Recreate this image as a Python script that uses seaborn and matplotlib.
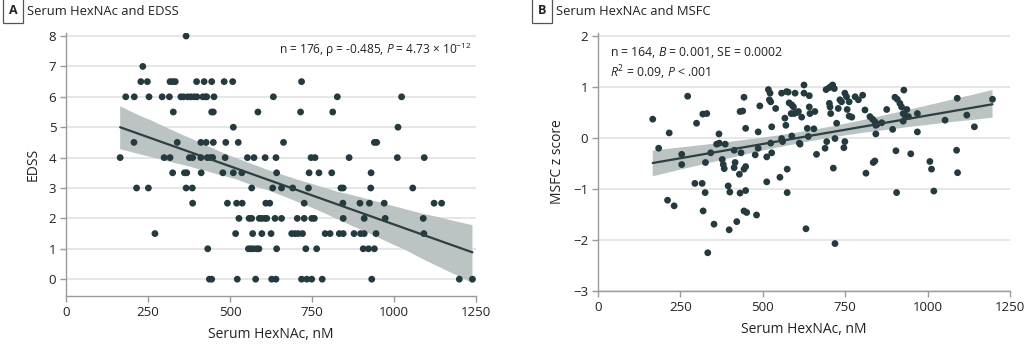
import numpy as np
import pandas as pd
import matplotlib
matplotlib.use("Agg")
import matplotlib.pyplot as plt
from matplotlib.collections import PolyCollection
import seaborn as sns

# ---------------- data: panel A (EDSS) ----------------
a_levels = [8, 7, 6.5, 6, 5.5, 5, 4.5, 4, 3.5, 3, 2.5, 2, 1.5, 1, 0]
a_x_by_level = [
    [366],
    [234],
    [228, 248, 317, 325, 333, 398, 421, 444, 482, 508, 718],
    [182, 208, 253, 293, 315, 350, 358, 371, 381, 391, 399, 417, 425, 429, 451, 632, 827, 1023],
    [327, 444, 449, 585, 715, 813],
    [510, 1012],
    [207, 339, 411, 427, 449, 487, 525, 663, 940, 947],
    [165, 299, 317, 376, 386, 411, 431, 441, 447, 485, 553, 573, 607, 640, 747, 759, 863, 1010, 1092],
    [325, 361, 368, 412, 478, 510, 536, 642, 741, 771, 810, 930],
    [215, 251, 366, 385, 566, 630, 657, 691, 739, 838, 845, 929, 1057],
    [386, 492, 520, 537, 609, 621, 726, 844, 896, 925, 970, 1122, 1145],
    [527, 558, 566, 589, 597, 607, 612, 637, 657, 705, 726, 749, 757, 845, 909, 973, 1089],
    [271, 517, 569, 597, 625, 688, 698, 708, 721, 790, 805, 833, 845, 878, 898, 909, 945, 1091],
    [432, 556, 563, 571, 581, 588, 642, 731, 764, 906, 922, 940],
    [437, 444, 522, 578, 627, 640, 718, 734, 749, 781, 932, 1199, 1239],
]
a_hexnac = [x for xs in a_x_by_level for x in xs]
a_edss = [lv for lv, xs in zip(a_levels, a_x_by_level) for _ in xs]

# ---------------- data: panel B (MSFC z score) ----------------
b_hexnac = [166, 272, 216, 184, 254, 254, 299, 318, 330, 367, 360, 368, 386, 342, 326,
            377, 380, 383, 294, 316, 325, 211, 395, 400, 413, 416, 429, 443, 448, 413,
            431, 439, 443, 448, 434, 431, 448, 477, 486, 486, 491, 512, 512, 517, 522,
            520, 524, 527, 524, 527, 539, 557, 572, 577, 567, 570, 557, 560, 552, 574,
            574, 580, 588, 593, 598, 586, 595, 603, 588, 611, 613, 608, 618, 625, 625,
            635, 638, 641, 641, 643, 655, 658, 663, 689, 694, 692, 702, 712, 717, 709,
            702, 704, 706, 714, 719, 724, 729, 734, 739, 749, 754, 762, 756, 762, 770,
            749, 746, 780, 790, 803, 810, 813, 825, 833, 840, 843, 847, 843, 835, 840,
            861, 876, 894, 904, 901, 908, 916, 921, 928, 926, 931, 937, 942, 926, 949,
            969, 969, 1007, 1012, 1019, 1053, 1088, 1091, 1090, 1119, 1142, 1197,
            231, 319, 352, 333, 421, 398, 443, 451, 481, 631, 719, 906]
b_msfc = [0.37, 0.82, 0.10, -0.20, -0.32, -0.52, 0.29, 0.47, 0.48, 0.08, -0.12, -0.10, -0.12, -0.29, -0.48,
          -0.42, -0.52, -0.60, -0.89, -0.89, -1.07, -1.22, -0.94, -1.06, -0.58, -0.48, -0.71, -0.61, -0.56, -0.24,
          0.52, 0.53, 0.80, 0.19, -0.29, -1.08, -1.03, -0.33, 0.12, -0.20, 0.63, -0.37, -0.86, 0.95, 0.88,
          0.75, 0.71, 0.22, -0.10, -0.29, 0.58, 0.88, 0.91, 0.90, 0.39, 0.25, -0.01, -0.07, -0.77, -0.61,
          -1.07, 0.69, 0.65, 0.61, 0.88, 0.48, 0.48, 0.50, 0.04, -0.10, -0.12, 0.52, 0.41, 1.04, 0.88,
          0.19, 0.03, 0.83, 0.61, 0.48, 0.18, 0.52, -0.32, -0.20, -0.07, 0.95, 0.99, 1.04, 0.97, 1.02,
          0.68, 0.61, 0.48, -0.59, -0.01, 0.29, 0.58, 0.75, 0.71, 0.88, 0.81, 0.71, 0.56, 0.43, 0.41,
          -0.07, -0.19, 0.81, 0.75, 0.84, 0.55, -0.69, 0.42, 0.37, 0.32, 0.25, 0.27, 0.08, -0.48, -0.45,
          0.30, 0.56, 0.17, -0.25, 0.80, 0.76, 0.68, 0.61, 0.94, 0.48, 0.45, 0.56, 0.42, 0.33, -0.31,
          0.48, 0.12, -0.46, -0.61, -1.04, 0.35, -0.24, -0.68, 0.78, 0.45, 0.22, 0.76,
          -1.33, -1.43, -1.69, -2.25, -1.64, -1.80, -1.43, -1.46, -1.51, -1.78, -2.07, -1.07]

x_ticks = [0, 250, 500, 750, 1000, 1250]
a_yticks = [0, 1, 2, 3, 4, 5, 6, 7, 8]
b_yticks = [-3, -2, -1, 0, 1, 2]

df_a = pd.DataFrame({"hexnac": a_hexnac, "edss": a_edss})
df_b = pd.DataFrame({"hexnac": b_hexnac, "msfc": b_msfc})

# ---------------- style ----------------
sns.set_theme(style="white")
plt.rcParams["font.family"] = ["Open Sans", "DejaVu Sans"]
plt.rcParams["mathtext.fontset"] = "custom"
plt.rcParams["mathtext.rm"] = "Open Sans"
plt.rcParams["mathtext.it"] = "Open Sans:italic"
plt.rcParams["mathtext.bf"] = "Open Sans:bold"

DOT = "#243a3e"
LINE = "#2c3f42"
BAND = "#bcc3c3"
GRID = "#e2e2e2"
SPINE = "#9a9a9a"
TXT = "#222222"

fig = plt.figure(figsize=(10.24, 3.51), dpi=100)
ax_a = fig.add_axes([0.0645, 0.157, 0.4004, 0.749])
ax_b = fig.add_axes([0.584, 0.171, 0.4023, 0.735])


def style_axes(ax, yticks):
    ax.set_xticks(x_ticks)
    ax.set_yticks(yticks)
    ax.set_xlim(0, 1250)
    ax.yaxis.grid(True, color=GRID, linewidth=1.2)
    ax.xaxis.grid(False)
    ax.set_axisbelow(True)
    for s in ["top", "right"]:
        ax.spines[s].set_visible(False)
    for s in ["left", "bottom"]:
        ax.spines[s].set_color(SPINE)
        ax.spines[s].set_linewidth(1.0)
    ax.tick_params(axis="both", which="both", direction="out", length=4, width=1,
                   color=SPINE, labelsize=9.5, labelcolor=TXT, pad=3,
                   left=True, bottom=True)
    ax.set_xlabel("Serum HexNAc, nM", fontsize=10, color=TXT, labelpad=6)


def recolor_band(ax):
    for coll in ax.collections:
        if isinstance(coll, PolyCollection):
            coll.set_facecolor(BAND)
            coll.set_alpha(1)
            coll.set_edgecolor("none")
            coll.set_zorder(2)


sns.regplot(data=df_a, x="hexnac", y="edss", ax=ax_a, ci=99, n_boot=2000, seed=1,
            scatter_kws=dict(s=24, color=DOT, edgecolor="none", alpha=1, zorder=3),
            line_kws=dict(color=LINE, linewidth=1.6, zorder=4), color=BAND)
recolor_band(ax_a)
style_axes(ax_a, a_yticks)
ax_a.set_ylim(-0.55, 8.1)
ax_a.set_ylabel("EDSS", fontsize=10, color=TXT, labelpad=6)
ax_a.text(0.99, 0.935,
          r"n = 176, ρ = -0.485, $\it{P}$ = 4.73 × 10$^{-12}$",
          transform=ax_a.transAxes, ha="right", va="center", fontsize=8.6, color=TXT)

sns.regplot(data=df_b, x="hexnac", y="msfc", ax=ax_b, ci=95, n_boot=2000, seed=1,
            scatter_kws=dict(s=24, color=DOT, edgecolor="none", alpha=1, zorder=3),
            line_kws=dict(color=LINE, linewidth=1.6, zorder=4), color=BAND)
recolor_band(ax_b)
style_axes(ax_b, b_yticks)
ax_b.set_ylim(-3, 2.06)
ax_b.set_ylabel("MSFC z score", fontsize=10, color=TXT, labelpad=6)
ax_b.text(0.03, 0.955,
          "n = 164, $\\it{B}$ = 0.001, SE = 0.0002\n$\\it{R}^{2}$ = 0.09, $\\it{P}$ < .001",
          transform=ax_b.transAxes, ha="left", va="top", fontsize=8.8, color=TXT,
          linespacing=1.3)

# panel titles with boxed letters
for letter, bx, title in [("A", 0.0128, "Serum HexNAc and EDSS"),
                          ("B", 0.5292, "Serum HexNAc and MSFC")]:
    fig.text(bx, 0.97, letter, ha="center", va="center", fontsize=9,
             fontweight="bold", color=TXT,
             bbox=dict(boxstyle="square,pad=0.45", facecolor="white",
                       edgecolor="#555555", linewidth=0.9))
    fig.text(bx + 0.0135, 0.968, title, ha="left", va="center", fontsize=9.4, color=TXT)

fig.savefig("out.png", dpi=100)
